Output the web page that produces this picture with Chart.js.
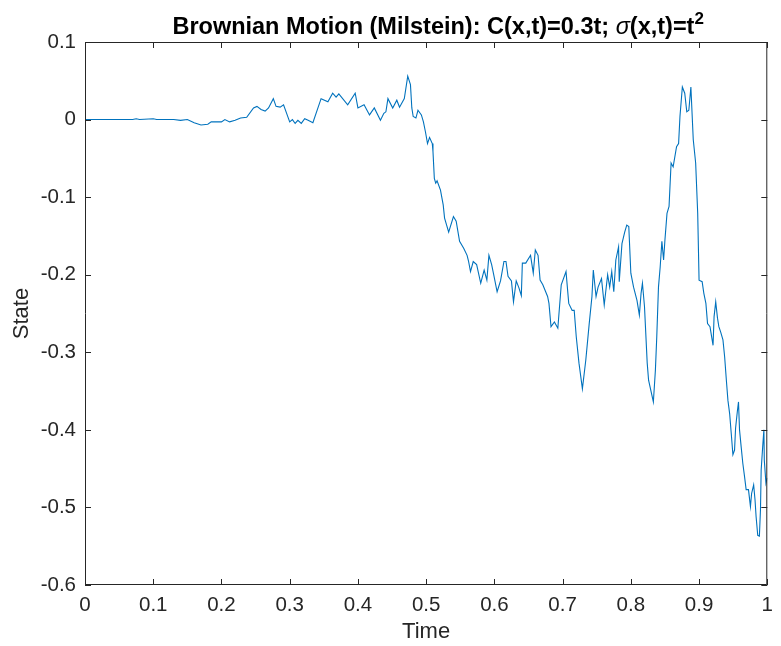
<!DOCTYPE html>
<html>
<head>
<meta charset="utf-8">
<title>Brownian Motion (Milstein)</title>
<script src="https://cdn.jsdelivr.net/npm/chart.js@4.4.1/dist/chart.umd.min.js"></script>
<style>
  html, body { margin: 0; padding: 0; background: #fff; }
  canvas { display: block; }
</style>
</head>
<body>
<canvas id="milsteinChart" width="781" height="646"></canvas>
<script>
// simulated path, sampled along the time axis
const times = [
  0, 0.07, 0.075, 0.08, 0.1, 0.105, 0.13, 0.14, 0.15, 0.16,
  0.17, 0.18, 0.185, 0.2, 0.205, 0.212, 0.22, 0.228, 0.237, 0.247,
  0.252, 0.258, 0.264, 0.269, 0.276, 0.28, 0.286, 0.291, 0.3, 0.304,
  0.308, 0.312, 0.317, 0.322, 0.327, 0.334, 0.346, 0.356, 0.363, 0.368,
  0.372, 0.385, 0.396, 0.4, 0.409, 0.417, 0.424, 0.433, 0.438, 0.441,
  0.444, 0.451, 0.457, 0.461, 0.468, 0.473, 0.477, 0.479, 0.481, 0.485,
  0.488, 0.493, 0.496, 0.499, 0.502, 0.505, 0.509, 0.51, 0.512, 0.514,
  0.516, 0.521, 0.525, 0.527, 0.533, 0.54, 0.544, 0.549, 0.555, 0.56,
  0.562, 0.565, 0.569, 0.574, 0.58, 0.585, 0.589, 0.592, 0.596, 0.599,
  0.604, 0.609, 0.614, 0.617, 0.62, 0.625, 0.628, 0.632, 0.636, 0.6395,
  0.641, 0.646, 0.653, 0.657, 0.66, 0.664, 0.667, 0.671, 0.678, 0.68,
  0.683, 0.688, 0.693, 0.698, 0.705, 0.709, 0.714, 0.717, 0.72, 0.724,
  0.729, 0.734, 0.739, 0.743, 0.745, 0.749, 0.752, 0.757, 0.761, 0.766,
  0.769, 0.772, 0.775, 0.778, 0.782, 0.783, 0.787, 0.791, 0.794, 0.797,
  0.8, 0.804, 0.809, 0.8125, 0.815, 0.817, 0.82, 0.824, 0.826, 0.833,
  0.836, 0.838, 0.8405, 0.843, 0.8455, 0.848, 0.85, 0.853, 0.856, 0.859,
  0.862, 0.867, 0.87, 0.872, 0.8755, 0.879, 0.882, 0.885, 0.888, 0.8915,
  0.895, 0.898, 0.9, 0.9045, 0.907, 0.91, 0.9124, 0.916, 0.9205, 0.922,
  0.9244, 0.927, 0.929, 0.9317, 0.935, 0.9375, 0.94, 0.9423, 0.9448, 0.9472,
  0.9496, 0.952, 0.9535, 0.956, 0.9578, 0.9593, 0.9617, 0.9641, 0.9666, 0.969,
  0.9724, 0.9753, 0.977, 0.98, 0.982, 0.9836, 0.986, 0.9884, 0.99, 0.991,
  0.9932, 0.995, 0.9956, 0.998, 1.0
];
const states = [
  0, 0, 0.001, 0, 0.001, 0, 0, -0.001, 0, -0.004,
  -0.007, -0.006, -0.003, -0.003, 0, -0.003, -0.001, 0.002, 0.003, 0.015,
  0.017, 0.013, 0.011, 0.015, 0.027, 0.017, 0.016, 0.019, -0.003, 0,
  -0.005, -0.001, -0.005, 0.001, -0.001, -0.004, 0.027, 0.023, 0.034, 0.029,
  0.033, 0.019, 0.034, 0.015, 0.019, 0.006, 0.015, -0.001, 0.008, 0.01,
  0.027, 0.015, 0.025, 0.016, 0.027, 0.056, 0.045, 0.015, 0.004, 0.002,
  0.012, 0.006, -0.003, -0.016, -0.031, -0.023, -0.031, -0.041, -0.076, -0.082,
  -0.079, -0.091, -0.11, -0.127, -0.145, -0.125, -0.131, -0.157, -0.166, -0.175,
  -0.182, -0.196, -0.183, -0.187, -0.211, -0.194, -0.207, -0.175, -0.187, -0.2,
  -0.222, -0.208, -0.183, -0.183, -0.202, -0.208, -0.235, -0.208, -0.217, -0.227,
  -0.185, -0.185, -0.175, -0.198, -0.168, -0.175, -0.207, -0.213, -0.228, -0.237,
  -0.267, -0.261, -0.269, -0.213, -0.196, -0.237, -0.246, -0.246, -0.28, -0.314,
  -0.347, -0.31, -0.263, -0.228, -0.194, -0.228, -0.216, -0.205, -0.239, -0.2,
  -0.216, -0.196, -0.222, -0.181, -0.164, -0.209, -0.16, -0.145, -0.136, -0.138,
  -0.198, -0.216, -0.233, -0.252, -0.224, -0.211, -0.241, -0.314, -0.336, -0.364,
  -0.323, -0.28, -0.216, -0.19, -0.157, -0.181, -0.155, -0.121, -0.112, -0.056,
  -0.061, -0.035, -0.031, 0.004, 0.042, 0.034, 0.01, 0.012, 0.042, -0.026,
  -0.056, -0.121, -0.207, -0.209, -0.224, -0.237, -0.263, -0.267, -0.291, -0.254,
  -0.235, -0.256, -0.267, -0.274, -0.284, -0.306, -0.336, -0.362, -0.379, -0.405,
  -0.432, -0.426, -0.398, -0.377, -0.364, -0.4, -0.422, -0.443, -0.46, -0.477,
  -0.477, -0.499, -0.482, -0.471, -0.49, -0.512, -0.536, -0.537, -0.503, -0.452,
  -0.422, -0.4, -0.439, -0.469, -0.462
];
const timeTicks = [0, 0.1, 0.2, 0.3, 0.4, 0.5, 0.6, 0.7, 0.8, 0.9, 1];
const stateTicks = [-0.6, -0.5, -0.4, -0.3, -0.2, -0.1, 0, 0.1];

const axisInk = '#262626';
const lineBlue = '#0072BD';
const fontFamily = '"Liberation Sans", Arial, sans-serif';

// tick text like MATLAB: 0, 0.1, ..., 1 and -0.6 ... 0.1
const fmt = v => String(Number(v.toFixed(1)) || 0);

// boxed axes with inward ticks on all four sides
const boxAxes = {
  id: 'boxAxes',
  afterDraw(chart) {
    const { ctx, chartArea: a, scales: { x, y } } = chart;
    const tick = 6;
    ctx.save();
    ctx.strokeStyle = axisInk;
    ctx.lineWidth = 1;
    ctx.beginPath();
    ctx.rect(a.left + 0.5, a.top + 0.5, a.right - a.left - 1, a.bottom - a.top - 1);
    timeTicks.forEach(v => {
      const px = Math.round(x.getPixelForValue(v)) + 0.5;
      ctx.moveTo(px, a.bottom); ctx.lineTo(px, a.bottom - tick);
      ctx.moveTo(px, a.top); ctx.lineTo(px, a.top + tick);
    });
    stateTicks.forEach(v => {
      const py = Math.round(y.getPixelForValue(v)) + 0.5;
      ctx.moveTo(a.left, py); ctx.lineTo(a.left + tick, py);
      ctx.moveTo(a.right, py); ctx.lineTo(a.right - tick, py);
    });
    ctx.stroke();
    ctx.restore();
  }
};

// title with an italic sigma and a superscript 2
const mixedTitle = {
  id: 'mixedTitle',
  afterDraw(chart) {
    const { ctx, chartArea: a } = chart;
    const parts = [
      { text: 'Brownian Motion (Milstein): C(x,t)=0.3t; ', font: 'bold 23.5px ' + fontFamily, rise: 0 },
      { text: 'σ', font: 'italic 23.5px ' + fontFamily, rise: 0 },
      { text: '(x,t)=t', font: 'bold 23.5px ' + fontFamily, rise: 0 },
      { text: '2', font: 'bold 17px ' + fontFamily, rise: 10 }
    ];
    ctx.save();
    ctx.fillStyle = '#000';
    ctx.textBaseline = 'alphabetic';
    ctx.textAlign = 'left';
    let total = 0;
    parts.forEach(p => { ctx.font = p.font; p.w = ctx.measureText(p.text).width; total += p.w; });
    let cx = (a.left + a.right) / 2 - total / 2 + 12;
    const baseline = 34;
    parts.forEach(p => {
      ctx.font = p.font;
      ctx.fillText(p.text, cx, baseline - p.rise);
      cx += p.w;
    });
    ctx.restore();
  }
};

const ctx = document.getElementById('milsteinChart').getContext('2d');
new Chart(ctx, {
  type: 'line',
  data: {
    datasets: [{
      label: 'State',
      data: times.map((t, i) => ({ x: t, y: states[i] })),
      borderColor: lineBlue,
      borderWidth: 1.1,
      pointRadius: 0,
      tension: 0,
      fill: false
    }]
  },
  options: {
    responsive: false,
    animation: false,
    layout: { padding: { top: 42, right: 8, left: 0, bottom: 0 } },
    plugins: {
      legend: { display: false },
      title: { display: false },
      tooltip: { enabled: false }
    },
    scales: {
      x: {
        type: 'linear',
        min: 0,
        max: 1,
        afterBuildTicks: s => { s.ticks = timeTicks.map(v => ({ value: v })); },
        afterFit: s => { s.height = 61; },
        grid: { display: false, drawTicks: false },
        border: { display: false },
        ticks: {
          color: axisInk,
          padding: 8,
          maxRotation: 0,
          autoSkip: false,
          font: { family: fontFamily, size: 20.5 },
          callback: v => fmt(v)
        },
        title: {
          display: true,
          text: 'Time',
          color: axisInk,
          padding: { top: 0, bottom: 1 },
          font: { family: fontFamily, size: 22 }
        }
      },
      y: {
        type: 'linear',
        min: -0.6,
        max: 0.1,
        afterBuildTicks: s => { s.ticks = stateTicks.map(v => ({ value: v })); },
        afterFit: s => { s.width = 85; },
        grid: { display: false, drawTicks: false },
        border: { display: false },
        ticks: {
          color: axisInk,
          padding: 9,
          autoSkip: false,
          font: { family: fontFamily, size: 20.5 },
          callback: v => fmt(v)
        },
        title: {
          display: true,
          text: 'State',
          color: axisInk,
          padding: { top: 9, bottom: 0 },
          font: { family: fontFamily, size: 22 }
        }
      }
    }
  },
  plugins: [boxAxes, mixedTitle]
});
</script>
</body>
</html>
